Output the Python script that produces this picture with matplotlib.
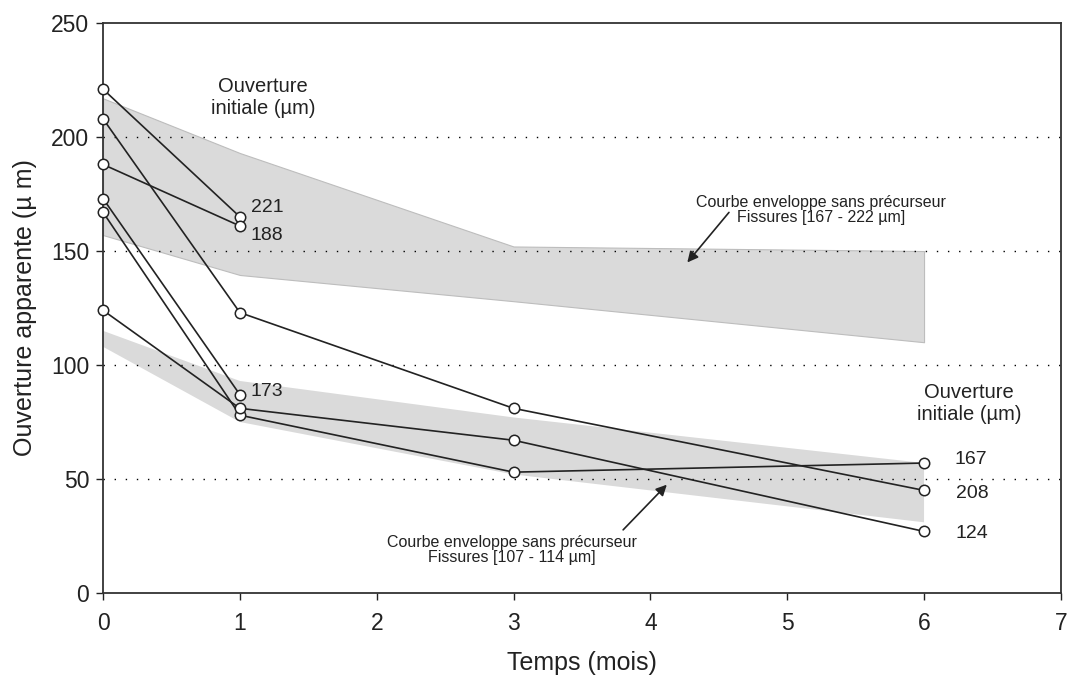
import matplotlib
matplotlib.use("Agg")
import matplotlib.pyplot as plt

plt.rcParams['font.family'] = ['Liberation Sans', 'DejaVu Sans']

# Series (initial opening label -> time, apparent opening)
s221_t = [0, 1]; s221_v = [221, 165]
s188_t = [0, 1]; s188_v = [188, 161]
s208_t = [0, 1, 3, 6]; s208_v = [208, 123, 81, 45]
s173_t = [0, 1]; s173_v = [173, 87]
s167_t = [0, 1, 3, 6]; s167_v = [167, 78, 53, 57]
s124_t = [0, 1, 3, 6]; s124_v = [124, 81, 67, 27]

# Envelope bands
band_t = [0, 1, 3, 6]
upper_hi = [217, 193, 152, 150]
upper_lo = [157, 139.5, 128, 110]
lower_hi = [115, 93, 77, 57]
lower_lo = [108, 75, 52, 31]

grid_y = [50, 100, 150, 200]

fig = plt.figure(figsize=(10.69, 6.79), dpi=100)
ax = fig.add_axes([0.0964, 0.1267, 0.896, 0.8393])

ax.fill_between(band_t, upper_lo, upper_hi, color='#dadada', edgecolor='#bdbdbd', linewidth=0.8, zorder=1)
ax.fill_between(band_t, lower_lo, lower_hi, color='#dadada', edgecolor='none', zorder=1)

for gy in grid_y:
    ax.axhline(gy, color='black', linestyle=(0, (1, 7)), linewidth=1.0, zorder=2)

for t, v in [(s221_t, s221_v), (s188_t, s188_v), (s208_t, s208_v),
             (s173_t, s173_v), (s167_t, s167_v), (s124_t, s124_v)]:
    ax.plot(t, v, color='#222222', linewidth=1.2, marker='o', markersize=7.5,
            markerfacecolor='white', markeredgecolor='#222222', markeredgewidth=1.1,
            zorder=4, clip_on=False)

ax.set_xlim(0, 7)
ax.set_ylim(0, 250)
ax.set_xticks(range(0, 8))
ax.set_yticks(range(0, 251, 50))
ax.tick_params(direction='out', length=5, width=1, labelsize=16.5, colors='#222222')
ax.tick_params(axis='x', pad=9)
ax.tick_params(axis='y', pad=5)
for sp in ax.spines.values():
    sp.set_color('#333333')
    sp.set_linewidth(1.3)

ax.set_xlabel('Temps (mois)', fontsize=18, color='#222222', labelpad=11)
ax.set_ylabel('Ouverture apparente (µ m)', fontsize=18, color='#222222', labelpad=10)

tc = '#222222'
ax.text(1.17, 217.5, 'Ouverture\ninitiale (µm)', fontsize=14.5, ha='center', va='center', color=tc, linespacing=1.2)
ax.text(1.08, 169, '221', fontsize=14, ha='left', va='center', color=tc)
ax.text(1.08, 157, '188', fontsize=14, ha='left', va='center', color=tc)
ax.text(1.08, 88.5, '173', fontsize=14, ha='left', va='center', color=tc)
ax.text(6.33, 83, 'Ouverture\ninitiale (µm)', fontsize=14.5, ha='center', va='center', color=tc, linespacing=1.2)
ax.text(6.34, 58.5, '167', fontsize=14, ha='center', va='center', color=tc)
ax.text(6.35, 43.5, '208', fontsize=14, ha='center', va='center', color=tc)
ax.text(6.35, 26, '124', fontsize=14, ha='center', va='center', color=tc)

ax.annotate('Courbe enveloppe sans précurseur\nFissures [167 - 222 µm]',
            xy=(4.27, 145), xytext=(5.25, 168), fontsize=11.5, ha='center', va='center',
            color=tc, linespacing=1.0,
            arrowprops=dict(arrowstyle='-|>', color='#222222', lw=1.2, mutation_scale=16,
                            shrinkA=0, shrinkB=0, patchA=None, relpos=(0.13, 0.42)),
            zorder=5)
ax.annotate('Courbe enveloppe sans précurseur\nFissures [107 - 114 µm]',
            xy=(4.12, 47.5), xytext=(2.99, 19), fontsize=11.5, ha='center', va='center',
            color=tc, linespacing=1.0,
            arrowprops=dict(arrowstyle='-|>', color='#222222', lw=1.2, mutation_scale=16,
                            shrinkA=0, shrinkB=0, patchA=None, relpos=(0.944, 1.16)),
            zorder=5)

fig.savefig('out.png', dpi=100)
